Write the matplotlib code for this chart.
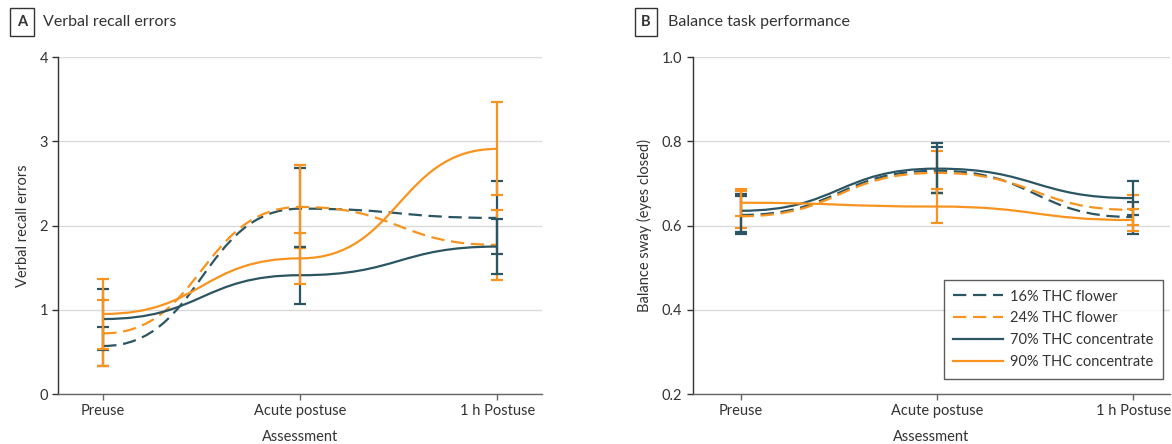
import matplotlib
matplotlib.use('Agg')
import matplotlib.pyplot as plt
from matplotlib.path import Path
from matplotlib.patches import PathPatch
from matplotlib.lines import Line2D

plt.rcParams['font.family'] = ['Lato', 'DejaVu Sans']

assessments = ['Preuse', 'Acute postuse', '1 h Postuse']
series_names = ['16% THC flower', '24% THC flower', '70% THC concentrate', '90% THC concentrate']

# Panel A: verbal recall errors (mean, lower CI, upper CI)
recall_16_mean = [0.57, 2.20, 2.09]
recall_16_lo = [0.33, 1.74, 1.66]
recall_16_hi = [0.80, 2.68, 2.53]
recall_24_mean = [0.72, 2.22, 1.77]
recall_24_lo = [0.33, 1.73, 1.35]
recall_24_hi = [1.12, 2.72, 2.19]
recall_70_mean = [0.89, 1.41, 1.75]
recall_70_lo = [0.52, 1.07, 1.42]
recall_70_hi = [1.25, 1.75, 2.08]
recall_90_mean = [0.95, 1.61, 2.91]
recall_90_lo = [0.53, 1.30, 2.36]
recall_90_hi = [1.36, 1.91, 3.47]

# Panel B: balance sway (eyes closed)
balance_16_mean = [0.625, 0.730, 0.620]
balance_16_lo = [0.581, 0.676, 0.581]
balance_16_hi = [0.670, 0.787, 0.656]
balance_24_mean = [0.622, 0.725, 0.637]
balance_24_lo = [0.593, 0.676, 0.601]
balance_24_hi = [0.682, 0.777, 0.672]
balance_70_mean = [0.635, 0.735, 0.665]
balance_70_lo = [0.585, 0.678, 0.625]
balance_70_hi = [0.675, 0.797, 0.706]
balance_90_mean = [0.654, 0.645, 0.613]
balance_90_lo = [0.623, 0.607, 0.588]
balance_90_hi = [0.686, 0.686, 0.640]

DARK = '#2b5562'
ORANGE = '#f7931e'
styles = [(DARK, (0, (6, 3))), (ORANGE, (0, (6, 3))), (DARK, '-'), (ORANGE, '-')]
TXT = '#333333'

def bump_path(xs, ys):
    verts = [(xs[0], ys[0])]
    codes = [Path.MOVETO]
    for i in range(len(xs) - 1):
        xm = (xs[i] + xs[i + 1]) / 2.0
        verts += [(xm, ys[i]), (xm, ys[i + 1]), (xs[i + 1], ys[i + 1])]
        codes += [Path.CURVE4] * 3
    return Path(verts, codes)

def draw_panel(ax, data, ylim, yticks, yfmt, ylabel, xlim):
    xs = list(range(len(assessments)))
    for k, (mean, lo, hi) in enumerate(data):
        color, ls = styles[k]
        z = 3 + k
        patch = PathPatch(bump_path(xs, mean), fill=False, edgecolor=color,
                          linewidth=1.6, linestyle=ls, zorder=z, capstyle='butt')
        ax.add_patch(patch)
        yerr = [[m - l for m, l in zip(mean, lo)], [h - m for m, h in zip(mean, hi)]]
        ax.errorbar(xs, mean, yerr=yerr, fmt='none', ecolor=color, elinewidth=1.6,
                    capsize=4.4, capthick=1.6, zorder=z)
    ax.set_xlim(*xlim)
    ax.set_ylim(*ylim)
    ax.set_yticks(yticks)
    ax.set_yticklabels([yfmt.format(t) for t in yticks])
    ax.set_xticks(xs)
    ax.set_xticklabels(assessments)
    ax.yaxis.grid(True, color='#dadada', linewidth=1.0, zorder=0)
    ax.set_axisbelow(True)
    for s in ['top', 'right']:
        ax.spines[s].set_visible(False)
    ax.spines['left'].set_color('#333333')
    ax.spines['bottom'].set_color('#666666')
    ax.spines['left'].set_linewidth(1.0)
    ax.spines['bottom'].set_linewidth(1.0)
    ax.tick_params(axis='both', labelsize=10.5, colors=TXT, length=4, width=1.0)
    ax.tick_params(axis='x', colors='#666666', labelcolor=TXT)
    ax.set_xlabel('Assessment', fontsize=10.5, color=TXT, labelpad=8)
    ax.set_ylabel(ylabel, fontsize=10.5, color=TXT, labelpad=7)

fig = plt.figure(figsize=(11.72, 4.44), dpi=100)
axA = fig.add_axes([0.0497, 0.1126, 0.4125, 0.759])
axB = fig.add_axes([0.591, 0.1126, 0.4073, 0.759])

dataA = [(recall_16_mean, recall_16_lo, recall_16_hi),
         (recall_24_mean, recall_24_lo, recall_24_hi),
         (recall_70_mean, recall_70_lo, recall_70_hi),
         (recall_90_mean, recall_90_lo, recall_90_hi)]
dataB = [(balance_16_mean, balance_16_lo, balance_16_hi),
         (balance_24_mean, balance_24_lo, balance_24_hi),
         (balance_70_mean, balance_70_lo, balance_70_hi),
         (balance_90_mean, balance_90_lo, balance_90_hi)]

draw_panel(axA, dataA, (0, 4), [0, 1, 2, 3, 4], '{:.0f}', 'Verbal recall errors', (-0.228, 2.225))
draw_panel(axB, dataB, (0.2, 1.0), [0.2, 0.4, 0.6, 0.8, 1.0], '{:.1f}', 'Balance sway (eyes closed)', (-0.2445, 2.187))

handles = [Line2D([], [], color=c, linestyle=ls, linewidth=1.6) for c, ls in styles]
leg = axB.legend(handles, series_names, loc='upper left', bbox_to_anchor=(0.5265, 0.338),
                 fontsize=10.5, frameon=True, fancybox=False, handlelength=3.4,
                 borderpad=0.65, labelspacing=0.54, handletextpad=0.5, borderaxespad=0)
leg.get_frame().set_edgecolor('#333333')
leg.get_frame().set_linewidth(1.0)
for t in leg.get_texts():
    t.set_color(TXT)

# Panel titles with boxed letters
for xbox, xtxt, letter, title in [(22, 43, 'A', 'Verbal recall errors'),
                                  (646, 668, 'B', 'Balance task performance')]:
    fig.text(xbox / 1172, 1 - 22 / 444, letter, fontsize=10.5, fontweight='bold', color=TXT,
             ha='center', va='center',
             bbox=dict(boxstyle='square,pad=0.45', facecolor='white', edgecolor='#333333', linewidth=1.0))
    fig.text(xtxt / 1172, 1 - 22 / 444, title, fontsize=11.5, color=TXT, ha='left', va='center')

fig.savefig('out.png', dpi=100)
